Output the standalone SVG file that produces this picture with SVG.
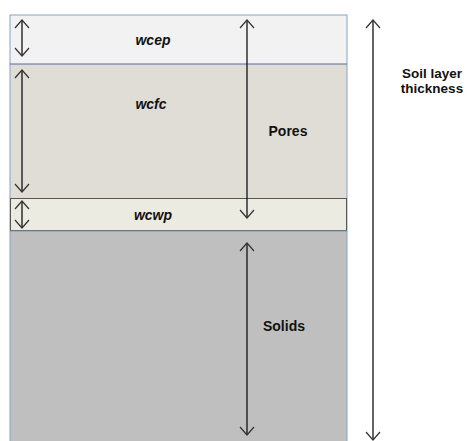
<svg xmlns="http://www.w3.org/2000/svg" width="467" height="441" viewBox="0 0 467 441">
<defs>
<style>
.lbl{font-family:"Liberation Sans",Arial,sans-serif;font-size:14px;font-weight:bold;fill:#111;text-anchor:middle}
.it{font-style:italic}
.sm{font-size:13.5px}
.arr{stroke:#111;stroke-width:1.3;fill:none;marker-start:url(#h);marker-end:url(#h)}
</style>
<marker id="h" markerUnits="userSpaceOnUse" markerWidth="20" markerHeight="20" viewBox="-10 -10 20 20" refX="0" refY="0" orient="auto-start-reverse">
<path d="M-8,-7 L0,0 L-8,7" fill="none" stroke="#333" stroke-width="1.2"/>
</marker>
</defs>
<rect width="467" height="441" fill="#fff"/>
<g id="wcep">
<rect x="10" y="15" width="337" height="49" fill="#f2f2f2"/>
<text class="lbl it" x="153" y="45">wcep</text>
</g>
<g id="wcfc">
<rect x="10" y="64" width="337" height="134" fill="#e0ddd7"/>
<text class="lbl it" x="151" y="109">wcfc</text>
</g>
<g id="wcwp">
<rect x="10" y="198" width="337" height="33" fill="#ecebe1"/>
<text class="lbl it" x="153" y="220">wcwp</text>
</g>
<g id="solids-band">
<rect x="10" y="231" width="337" height="215" fill="#bfbfbf"/>
</g>
<g id="frame">
<rect x="10" y="15" width="337" height="440" fill="none" stroke="#8aa2c4" stroke-width="1"/>
<line x1="10" y1="64" x2="347" y2="64" stroke="#4f6f9f" stroke-width="1"/>
<rect x="10.5" y="198.5" width="336" height="32" fill="none" stroke="#555" stroke-width="1"/>
<line x1="10" y1="231" x2="347" y2="231" stroke="#7f98bd" stroke-width="1"/>
</g>
<g id="pores">
<text class="lbl" x="288" y="136">Pores</text>
</g>
<g id="solids">
<text class="lbl" x="284" y="331">Solids</text>
</g>
<g id="soil-layer">
<text class="lbl sm" x="432" y="78">Soil layer</text>
<text class="lbl sm" x="432" y="93">thickness</text>
</g>
<g id="connectors">
<line class="arr" x1="22" y1="20" x2="22" y2="56"/>
<line class="arr" x1="22" y1="70" x2="22" y2="192"/>
<line class="arr" x1="22" y1="201" x2="22" y2="228"/>
<line class="arr" x1="247" y1="20" x2="247" y2="218"/>
<line class="arr" x1="247" y1="243" x2="247" y2="435"/>
<line class="arr" x1="373" y1="20" x2="373" y2="440"/>
</g>
</svg>
